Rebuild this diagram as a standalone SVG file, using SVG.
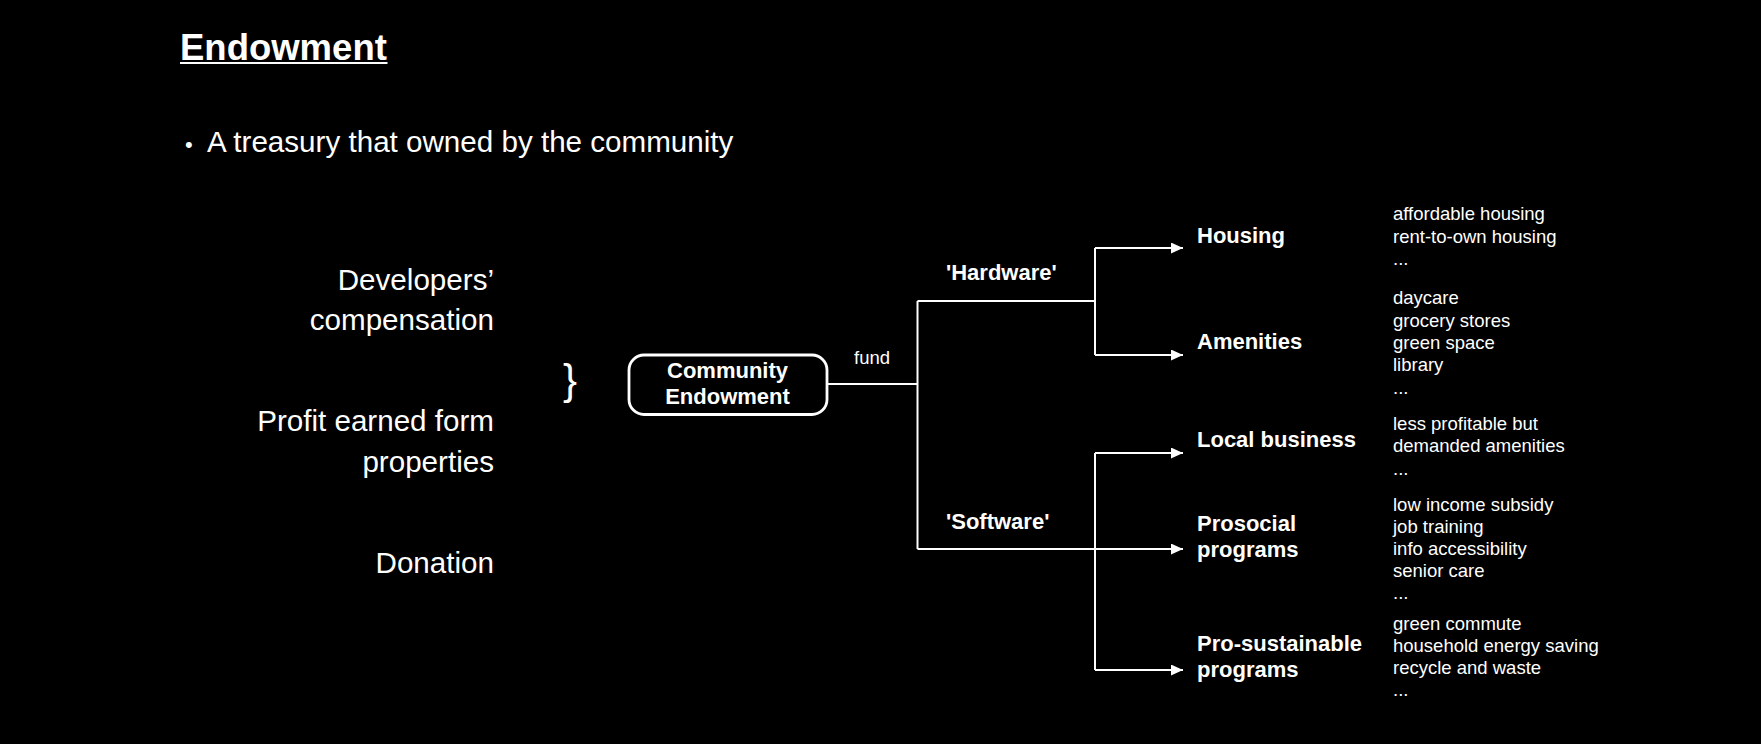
<svg xmlns="http://www.w3.org/2000/svg" width="1761" height="744" viewBox="0 0 1761 744">
<defs>
<style>
text{font-family:"Liberation Sans",Arial,Helvetica,sans-serif;fill:#fff}
.big{font-size:29.6px}
.b{font-weight:bold;font-size:22px}
.s{font-size:18.5px}
.c{fill:none;stroke:#fff;stroke-width:2}
</style>
<marker id="ah" markerUnits="userSpaceOnUse" markerWidth="13" markerHeight="11" refX="12" refY="5.5" orient="auto" viewBox="0 0 13 11">
<path d="M0,0 L12,5.5 L0,11 z" fill="#fff"/>
</marker>
</defs>
<rect width="1761" height="744" fill="#000"/>
<g id="title">
<text x="180" y="59.5" font-size="36.5" font-weight="bold">Endowment</text>
<rect x="180" y="62" width="207.5" height="2" fill="#fff"/>
</g>
<g id="bullet">
<text x="185" y="151.5" font-size="22">•</text>
<text x="207" y="151.5" class="big">A treasury that owned by the community</text>
</g>
<g id="sources" text-anchor="end">
<text x="494" y="290" class="big">Developers’</text>
<text x="494" y="330" class="big">compensation</text>
<text x="494" y="431" class="big">Profit earned form</text>
<text x="494" y="472" class="big">properties</text>
<text x="494" y="573" class="big">Donation</text>
</g>
<g id="brace">
<text x="563" y="394" font-size="42">}</text>
</g>
<g id="endowment">
<rect x="629" y="355" width="198" height="59.5" rx="15" fill="none" stroke="#fff" stroke-width="2.8"/>
<text x="727.5" y="378" class="b" text-anchor="middle">Community</text>
<text x="727.5" y="404" class="b" text-anchor="middle">Endowment</text>
</g>
<g id="connectors">
<path class="c" d="M827,384 H917.5"/>
<path class="c" d="M917.5,301 V549"/>
<path class="c" d="M917.5,301 H1095"/>
<path class="c" d="M1095,248 V355"/>
<path class="c" d="M1095,248 H1183" marker-end="url(#ah)"/>
<path class="c" d="M1095,355 H1183" marker-end="url(#ah)"/>
<path class="c" d="M917.5,549 H1183" marker-end="url(#ah)"/>
<path class="c" d="M1095,453 V670"/>
<path class="c" d="M1095,453 H1183" marker-end="url(#ah)"/>
<path class="c" d="M1095,670 H1183" marker-end="url(#ah)"/>
<text x="854" y="364" class="s">fund</text>
<text x="946" y="280" class="b">'Hardware'</text>
<text x="946" y="529" class="b">'Software'</text>
</g>
<g id="housing">
<text x="1197" y="243" class="b">Housing</text>
<text x="1393" y="219.5" class="s">affordable housing</text>
<text x="1393" y="242.5" class="s">rent-to-own housing</text>
<text x="1393" y="264.5" class="s">...</text>
</g>
<g id="amenities">
<text x="1197" y="349" class="b">Amenities</text>
<text x="1393" y="304" class="s">daycare</text>
<text x="1393" y="327" class="s">grocery stores</text>
<text x="1393" y="349" class="s">green space</text>
<text x="1393" y="371" class="s">library</text>
<text x="1393" y="393.5" class="s">...</text>
</g>
<g id="local-business">
<text x="1197" y="447" class="b">Local business</text>
<text x="1393" y="430" class="s">less profitable but</text>
<text x="1393" y="452" class="s">demanded amenities</text>
<text x="1393" y="475" class="s">...</text>
</g>
<g id="prosocial">
<text x="1197" y="531" class="b">Prosocial</text>
<text x="1197" y="557" class="b">programs</text>
<text x="1393" y="510.5" class="s">low income subsidy</text>
<text x="1393" y="532.5" class="s">job training</text>
<text x="1393" y="554.5" class="s">info accessibility</text>
<text x="1393" y="576.5" class="s">senior care</text>
<text x="1393" y="598.5" class="s">...</text>
</g>
<g id="pro-sustainable">
<text x="1197" y="651" class="b">Pro-sustainable</text>
<text x="1197" y="677" class="b">programs</text>
<text x="1393" y="629.5" class="s">green commute</text>
<text x="1393" y="651.5" class="s">household energy saving</text>
<text x="1393" y="673.5" class="s">recycle and waste</text>
<text x="1393" y="696" class="s">...</text>
</g>
</svg>
